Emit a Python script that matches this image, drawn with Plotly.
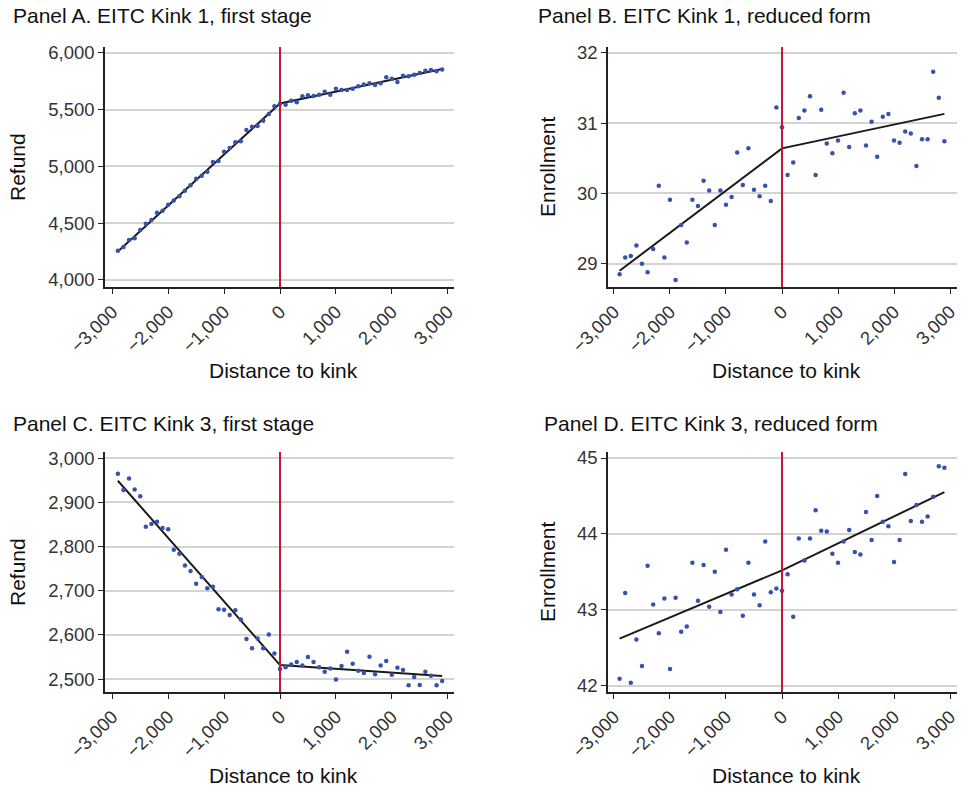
import plotly.graph_objects as go

# ---------------- data ----------------
dist = list(range(-2900, 3000, 100))  # bin centers, distance to kink

refund_k1 = [4258, 4290, 4352, 4366, 4440, 4495, 4528, 4592, 4610, 4662,
             4700, 4736, 4786, 4833, 4891, 4918, 4953, 5038, 5047, 5129,
             5161, 5211, 5220, 5320, 5349, 5355, 5402, 5460, 5528, 5551,
             5542, 5578, 5563, 5616, 5625, 5619, 5630, 5657, 5630, 5683,
             5671, 5671, 5683, 5704, 5721, 5730, 5715, 5730, 5783, 5771,
             5742, 5798, 5792, 5806, 5821, 5842, 5847, 5836, 5853]

enroll_k1 = [28.85, 29.09, 29.11, 29.26, 29.00, 28.88, 29.21, 30.11, 29.09, 29.91,
             28.77, 29.55, 29.30, 29.91, 29.82, 30.18, 30.04, 29.55, 30.04, 29.84,
             29.95, 30.58, 30.12, 30.64, 30.05, 29.96, 30.11, 29.89, 31.22, 30.94,
             30.26, 30.44, 31.07, 31.18, 31.38, 30.26, 31.19, 30.71, 30.57, 30.75,
             31.43, 30.66, 31.14, 31.18, 30.68, 31.02, 30.52, 31.09, 31.13, 30.75,
             30.72, 30.88, 30.85, 30.39, 30.77, 30.77, 31.73, 31.36, 30.74]

refund_k3 = [2965, 2928, 2954, 2929, 2914, 2845, 2851, 2856, 2842, 2839,
             2793, 2784, 2757, 2745, 2716, 2731, 2706, 2709, 2658, 2657,
             2645, 2656, 2635, 2591, 2570, 2592, 2570, 2601, 2558, 2523,
             2527, 2533, 2539, 2531, 2550, 2539, 2527, 2517, 2524, 2499,
             2530, 2562, 2535, 2519, 2514, 2551, 2511, 2531, 2541, 2510,
             2526, 2521, 2486, 2505, 2487, 2517, 2508, 2486, 2496]

enroll_k3 = [42.09, 43.22, 42.04, 42.61, 42.26, 43.58, 43.07, 42.69, 43.15, 42.22,
             43.16, 42.71, 42.78, 43.62, 43.12, 43.59, 43.04, 43.50, 42.97, 43.79,
             43.20, 43.27, 42.92, 43.62, 43.20, 43.06, 43.90, 43.23, 43.28, 43.25,
             43.47, 42.91, 43.94, 43.65, 43.94, 44.31, 44.04, 44.03, 43.74, 43.62,
             43.90, 44.05, 43.76, 43.73, 44.29, 43.92, 44.50, 44.16, 44.10, 43.63,
             43.92, 44.79, 44.17, 44.38, 44.16, 44.23, 44.49, 44.89, 44.87]

# fitted piecewise-linear lines (left end, kink, right end)
fit_x = [-2900, 0, 2900]
fit_refund_k1 = [4250, 5553, 5857]
fit_enroll_k1 = [28.90, 30.64, 31.13]
fit_refund_k3 = [2949, 2532, 2507]
fit_enroll_k3 = [42.62, 43.52, 44.55]

x_ticks = [-3000, -2000, -1000, 0, 1000, 2000, 3000]
x_ticktext = ["\u22123,000", "\u22122,000", "\u22121,000", "0", "1,000", "2,000", "3,000"]

titles = ["Panel A. EITC Kink 1, first stage", "Panel B. EITC Kink 1, reduced form",
          "Panel C. EITC Kink 3, first stage", "Panel D. EITC Kink 3, reduced form"]
y_titles = ["Refund", "Enrollment", "Refund", "Enrollment"]
x_title = "Distance to kink"

yticks_A = [4000, 4500, 5000, 5500, 6000]
yticks_B = [29, 30, 31, 32]
yticks_C = [2500, 2600, 2700, 2800, 2900, 3000]
yticks_D = [42, 43, 44, 45]

# ---------------- layout geometry (pixels) ----------------
W, H = 962, 787
FONT = "Liberation Sans, Arial, Helvetica, sans-serif"
BLUE = "#3652ad"
RED = "#c8143a"
GRID = "#d4d4d4"
AXIS = "#222222"
TICKC = "#333333"

panels = [
    dict(ys=refund_k1, fit=fit_refund_k1, yt=yticks_A, ytext=[f"{v:,}" for v in yticks_A],
         box=(105, 454, 47, 287), xr=[-3130, 3112], yr=[3938, 6050],
         tpos=(11, 16), ytpos=(17, 167), xtpos=(283, 370)),
    dict(ys=enroll_k1, fit=fit_enroll_k1, yt=yticks_B, ytext=[str(v) for v in yticks_B],
         box=(608, 957, 47, 287), xr=[-3107, 3125], yr=[28.669, 32.081],
         tpos=(535.5, 16), ytpos=(547, 167), xtpos=(786, 370)),
    dict(ys=refund_k3, fit=fit_refund_k3, yt=yticks_C, ytext=[f"{v:,}" for v in yticks_C],
         box=(105, 454, 452, 692), xr=[-3130, 3112], yr=[2471, 3014],
         tpos=(11, 424), ytpos=(17, 572), xtpos=(283, 775)),
    dict(ys=enroll_k3, fit=fit_enroll_k3, yt=yticks_D, ytext=[str(v) for v in yticks_D],
         box=(608, 957, 452, 692), xr=[-3107, 3125], yr=[41.917, 45.079],
         tpos=(541.5, 424), ytpos=(547, 572), xtpos=(786, 775)),
]

fig = go.Figure()
annotations = []
shapes = []
layout_axes = {}

for i, p in enumerate(panels):
    n = "" if i == 0 else str(i + 1)
    xa, ya = "x" + n, "y" + n
    x0, x1, y0, y1 = p["box"]
    fig.add_trace(go.Scatter(x=fit_x, y=p["fit"], mode="lines",
                             line=dict(color="#1a1a1a", width=2),
                             xaxis=xa, yaxis=ya, showlegend=False, hoverinfo="skip"))
    fig.add_trace(go.Scatter(x=dist, y=p["ys"], mode="markers",
                             marker=dict(color=BLUE, size=4.5, line=dict(width=0)),
                             xaxis=xa, yaxis=ya, showlegend=False))
    layout_axes["xaxis" + n] = dict(
        domain=[x0 / W, x1 / W], range=p["xr"], anchor=ya, automargin=False,
        tickvals=x_ticks, ticktext=x_ticktext, tickangle=-45,
        ticks="outside", ticklen=5, tickwidth=1, tickcolor=AXIS,
        showline=True, linecolor=AXIS, linewidth=1.5, showgrid=False, zeroline=False,
        tickfont=dict(family=FONT, size=18.5, color=TICKC))
    layout_axes["yaxis" + n] = dict(
        domain=[1 - y1 / H, 1 - y0 / H], range=p["yr"], anchor=xa, automargin=False,
        tickvals=p["yt"], ticktext=p["ytext"],
        ticks="outside", ticklen=5, tickwidth=1, tickcolor=AXIS,
        showline=True, linecolor=AXIS, linewidth=1.5,
        showgrid=True, gridcolor=GRID, gridwidth=1.5, zeroline=False,
        tickfont=dict(family=FONT, size=18.5, color=TICKC))
    shapes.append(dict(type="line", xref=xa, yref=ya + " domain", x0=0, x1=0, y0=0, y1=1,
                       line=dict(color=RED, width=2)))
    annotations.append(dict(text=titles[i], x=p["tpos"][0] / W, y=1 - p["tpos"][1] / H,
                            xref="paper", yref="paper", xanchor="left", yanchor="middle",
                            showarrow=False, font=dict(family=FONT, size=21, color="#111111")))
    annotations.append(dict(text=y_titles[i], x=p["ytpos"][0] / W, y=1 - p["ytpos"][1] / H,
                            xref="paper", yref="paper", xanchor="center", yanchor="middle",
                            textangle=-90, showarrow=False,
                            font=dict(family=FONT, size=21, color="#111111")))
    annotations.append(dict(text=x_title, x=p["xtpos"][0] / W, y=1 - p["xtpos"][1] / H,
                            xref="paper", yref="paper", xanchor="center", yanchor="middle",
                            showarrow=False, font=dict(family=FONT, size=21, color="#111111")))

fig.update_layout(width=W, height=H, margin=dict(l=0, r=0, t=0, b=0, autoexpand=False),
                  paper_bgcolor="white", plot_bgcolor="white",
                  annotations=annotations, shapes=shapes, **layout_axes)

fig.write_html("out.html", config={"displayModeBar": False},
               post_script="document.body.style.margin='0';document.body.style.overflow='hidden';")
